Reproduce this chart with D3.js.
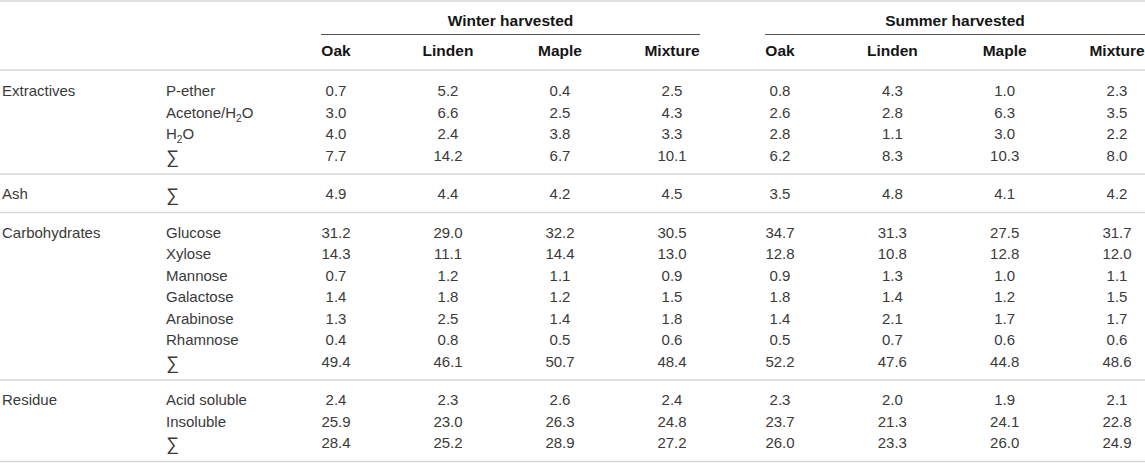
<!DOCTYPE html>
<html>
<head>
<meta charset="utf-8">
<script src="https://cdn.jsdelivr.net/npm/d3@7"></script>
<style>
  html, body { margin: 0; padding: 0; background: #fff; }
  svg { display: block; font-family: "Liberation Sans", Arial, Helvetica, sans-serif; }
</style>
</head>
<body>
<svg id="table"></svg>
<script>
// ---- data ----
const seasons = ["Winter harvested", "Summer harvested"];
const species = ["Oak", "Linden", "Maple", "Mixture"];
const groups = ["Extractives", "Ash", "Carbohydrates", "Residue"];

// row labels per group ("H_2O" marks a subscript 2)
const extractivesRows = ["P-ether", "Acetone/H_2O", "H_2O", "∑"];
const ashRows = ["∑"];
const carbohydrateRows = ["Glucose", "Xylose", "Mannose", "Galactose", "Arabinose", "Rhamnose", "∑"];
const residueRows = ["Acid soluble", "Insoluble", "∑"];

// values: winter Oak, Linden, Maple, Mixture | summer Oak, Linden, Maple, Mixture
const extractivesValues = [
  [0.7, 5.2, 0.4, 2.5, 0.8, 4.3, 1.0, 2.3],
  [3.0, 6.6, 2.5, 4.3, 2.6, 2.8, 6.3, 3.5],
  [4.0, 2.4, 3.8, 3.3, 2.8, 1.1, 3.0, 2.2],
  [7.7, 14.2, 6.7, 10.1, 6.2, 8.3, 10.3, 8.0]
];
const ashValues = [
  [4.9, 4.4, 4.2, 4.5, 3.5, 4.8, 4.1, 4.2]
];
const carbohydrateValues = [
  [31.2, 29.0, 32.2, 30.5, 34.7, 31.3, 27.5, 31.7],
  [14.3, 11.1, 14.4, 13.0, 12.8, 10.8, 12.8, 12.0],
  [0.7, 1.2, 1.1, 0.9, 0.9, 1.3, 1.0, 1.1],
  [1.4, 1.8, 1.2, 1.5, 1.8, 1.4, 1.2, 1.5],
  [1.3, 2.5, 1.4, 1.8, 1.4, 2.1, 1.7, 1.7],
  [0.4, 0.8, 0.5, 0.6, 0.5, 0.7, 0.6, 0.6],
  [49.4, 46.1, 50.7, 48.4, 52.2, 47.6, 44.8, 48.6]
];
const residueValues = [
  [2.4, 2.3, 2.6, 2.4, 2.3, 2.0, 1.9, 2.1],
  [25.9, 23.0, 26.3, 24.8, 23.7, 21.3, 24.1, 22.8],
  [28.4, 25.2, 28.9, 27.2, 26.0, 23.3, 26.0, 24.9]
];

const groupRows = [extractivesRows, ashRows, carbohydrateRows, residueRows];
const groupValues = [extractivesValues, ashValues, carbohydrateValues, residueValues];

// ---- layout ----
const W = 1145, H = 463;
const fontSize = 15, headSize = 15.5, sumSize = 18;
const bodyColor = "#3a3a3a", headColor = "#151515";
const ruleColor = "#d6d6d6", lineColor = "#555";

const svg = d3.select("#table").attr("width", W).attr("height", H)
  .attr("viewBox", [0, 0, W, H]);

// column scales: one point scale per season
const colX = [
  d3.scalePoint().domain(species).range([336, 672]),
  d3.scalePoint().domain(species).range([780, 1117])
];
const spanX = [[321, 700], [765, 1145]];

const xGroup = 2, xLabel = 166;
const headTop = 71;
const rowPitch = 21.5, padTop = 20, padBottom = 18.5;

// row positions: linear scale over row index inside a group
const rows = [];
const groupBounds = [];
let yCursor = headTop;
groups.forEach((g, gi) => {
  const n = groupRows[gi].length;
  const y = d3.scaleLinear().domain([0, 1]).range([yCursor + padTop, yCursor + padTop + rowPitch]);
  groupRows[gi].forEach((label, ri) => {
    rows.push({ group: ri === 0 ? g : "", label, values: groupValues[gi][ri], y: y(ri) });
  });
  yCursor = y(n - 1) + padBottom;
  groupBounds.push(yCursor);
});

// helper: text with "_x" subscripts, larger sum sign
function richText(sel, str) {
  if (str === "∑") {
    sel.attr("font-size", sumSize).attr("dy", "0.4em").text(str);
    return;
  }
  const parts = str.split(/_(\d)/);
  parts.forEach((p, i) => {
    if (!p) return;
    if (i % 2 === 1) {
      sel.append("tspan").attr("dy", 4).attr("font-size", fontSize * 0.68).text(p);
    } else {
      sel.append("tspan").attr("dy", i === 0 ? null : -4).text(p);
    }
  });
}

// ---- rules ----
svg.append("line")
  .attr("x1", 0).attr("x2", W).attr("y1", 1).attr("y2", 1)
  .attr("stroke", ruleColor).attr("stroke-width", 1.5);
svg.append("line")
  .attr("x1", 0).attr("x2", W).attr("y1", headTop - 1).attr("y2", headTop - 1)
  .attr("stroke", ruleColor).attr("stroke-width", 1.5);
svg.selectAll("line.group-rule")
  .data(groupBounds)
  .join("line")
  .attr("class", "group-rule")
  .attr("x1", 0).attr("x2", W)
  .attr("y1", d => d).attr("y2", d => d)
  .attr("stroke", ruleColor).attr("stroke-width", 1.5);

// ---- header ----
seasons.forEach((s, si) => {
  const [a, b] = spanX[si];
  svg.append("text")
    .attr("x", (a + b) / 2).attr("y", 21).attr("dy", "0.35em")
    .attr("text-anchor", "middle")
    .attr("font-size", headSize).attr("font-weight", 700)
    .attr("fill", headColor)
    .text(s);
  svg.append("line")
    .attr("x1", a).attr("x2", b).attr("y1", 34.5).attr("y2", 34.5)
    .attr("stroke", lineColor).attr("stroke-width", 1);
  svg.append("g").selectAll("text")
    .data(species)
    .join("text")
    .attr("x", d => colX[si](d)).attr("y", 51).attr("dy", "0.35em")
    .attr("text-anchor", "middle")
    .attr("font-size", headSize).attr("font-weight", 700)
    .attr("fill", headColor)
    .text(d => d);
});

// ---- body ----
const body = svg.append("g")
  .attr("font-size", fontSize).attr("fill", bodyColor);

const row = body.selectAll("g.row")
  .data(rows)
  .join("g")
  .attr("class", "row")
  .attr("transform", d => `translate(0,${d.y})`);

row.append("text")
  .attr("x", xGroup).attr("dy", "0.35em")
  .text(d => d.group);

row.append("text")
  .attr("x", xLabel).attr("dy", "0.35em")
  .each(function(d) { richText(d3.select(this), d.label); });

row.selectAll("text.val")
  .data(d => d.values.map((v, i) => ({ v, si: Math.floor(i / 4), sp: species[i % 4] })))
  .join("text")
  .attr("class", "val")
  .attr("x", d => colX[d.si](d.sp)).attr("dy", "0.35em")
  .attr("text-anchor", "middle")
  .text(d => d3.format(".1f")(d.v));
</script>
</body>
</html>
